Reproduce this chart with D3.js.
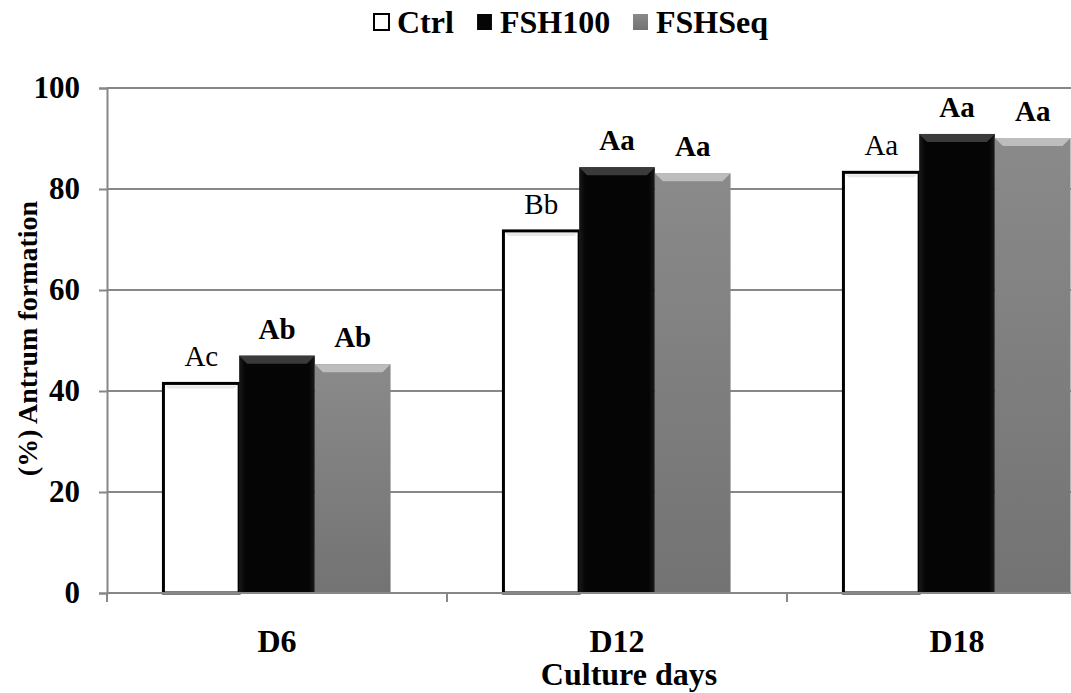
<!DOCTYPE html>
<html>
<head>
<meta charset="utf-8">
<script src="https://cdn.jsdelivr.net/npm/d3@7"></script>
<style>
  body { margin: 0; background: #fff; }
  svg { display: block; font-family: "Liberation Serif", "Times New Roman", serif; }
</style>
</head>
<body>
<div id="chart"></div>
<script>
// chart data
const days = ['D6', 'D12', 'D18'];
const series = ['Ctrl', 'FSH100', 'FSHSeq'];
const ctrlValues = [41.5, 71.7, 83.3];
const fsh100Values = [47.0, 84.3, 90.9];
const fshSeqValues = [45.3, 83.1, 90.1];
const ctrlLabels = ['Ac', 'Bb', 'Aa'];
const fsh100Labels = ['Ab', 'Aa', 'Aa'];
const fshSeqLabels = ['Ab', 'Aa', 'Aa'];
const yTicks = [0, 20, 40, 60, 80, 100];

const valuesBySeries = [ctrlValues, fsh100Values, fshSeqValues];
const labelsBySeries = [ctrlLabels, fsh100Labels, fshSeqLabels];

const W = 1071;
const H = 693;
const margin = { top: 88, left: 107, bottom: 100 };
// the plot runs past the right edge of the picture
const plotRight = 1127;
const plotBottom = H - margin.bottom;

const svg = d3.select('#chart').append('svg').attr('width', W).attr('height', H);

const defs = svg.append('defs');
const blackGrad = defs.append('linearGradient').attr('id', 'gBlack').attr('x1', 0).attr('x2', 1).attr('y1', 0).attr('y2', 0);
blackGrad.append('stop').attr('offset', '0%').attr('stop-color', '#1a1a1a');
blackGrad.append('stop').attr('offset', '8%').attr('stop-color', '#050505');
blackGrad.append('stop').attr('offset', '92%').attr('stop-color', '#050505');
blackGrad.append('stop').attr('offset', '100%').attr('stop-color', '#1a1a1a');
const greyGrad = defs.append('linearGradient').attr('id', 'gGrey').attr('x1', 0).attr('x2', 0).attr('y1', 0).attr('y2', 1);
greyGrad.append('stop').attr('offset', '0%').attr('stop-color', '#8a8a8a');
greyGrad.append('stop').attr('offset', '100%').attr('stop-color', '#737373');

const fills = ['#ffffff', 'url(#gBlack)', 'url(#gGrey)'];
const bevels = ['#e8e8e8', '#3a3a3a', '#bdbdbd'];

const x0 = d3.scaleBand().domain(days).range([margin.left, plotRight]).padding(0);
const x1 = d3.scaleBand().domain(series)
  .range([x0.bandwidth() * 0.166, x0.bandwidth() * 0.834]).padding(0);
const y = d3.scaleLinear().domain([0, 100]).range([plotBottom, margin.top]);

// gridlines
svg.append('g')
  .selectAll('line')
  .data(yTicks.slice(1))
  .enter()
  .append('line')
  .attr('x1', margin.left)
  .attr('x2', W)
  .attr('y1', (d) => y(d))
  .attr('y2', (d) => y(d))
  .attr('stroke', '#878787')
  .attr('stroke-width', 2);

// y axis
const yAxis = svg.append('g')
  .attr('transform', `translate(${margin.left},0)`)
  .call(d3.axisLeft(y).tickValues(yTicks).tickSize(8).tickPadding(19));
yAxis.attr('font-family', null);
yAxis.select('.domain').attr('stroke', '#878787').attr('stroke-width', 2);
yAxis.selectAll('.tick line').attr('stroke', '#878787').attr('stroke-width', 2);
yAxis.selectAll('.tick text')
  .attr('fill', '#000')
  .style('font-size', '31px')
  .style('font-weight', 'bold');

// bars
const groups = svg.append('g')
  .selectAll('g')
  .data(days)
  .enter()
  .append('g')
  .attr('transform', (d) => `translate(${x0(d)},0)`);

series.forEach((s, si) => {
  const bw = x1.bandwidth();
  groups.append('rect')
    .attr('x', x1(s))
    .attr('y', (d, i) => y(valuesBySeries[si][i]))
    .attr('width', bw)
    .attr('height', (d, i) => y(0) - y(valuesBySeries[si][i]))
    .attr('fill', fills[si])
    .attr('stroke', si === 0 ? '#000' : 'none')
    .attr('stroke-width', si === 0 ? 3 : 0);

  // top bevel
  const bev = si === 0 ? 3 : 8;
  groups.append('path')
    .attr('d', (d, i) => {
      const top = y(valuesBySeries[si][i]);
      const l = x1(s) + (si === 0 ? 2 : 0);
      const r = x1(s) + bw - (si === 0 ? 2 : 0);
      const t = top + (si === 0 ? 2 : 0);
      return `M${l},${t}L${r},${t}L${r - bev},${t + bev}L${l + bev},${t + bev}Z`;
    })
    .attr('fill', bevels[si]);

  groups.append('text')
    .attr('x', x1(s) + bw / 2)
    .attr('y', (d, i) => y(valuesBySeries[si][i]) - 17)
    .attr('text-anchor', 'middle')
    .style('font-size', '29px')
    .style('font-weight', si === 0 ? 'normal' : 'bold')
    .text((d, i) => labelsBySeries[si][i]);
});

// x axis
const xAxis = svg.append('g')
  .attr('transform', `translate(0,${plotBottom})`);
xAxis.append('line')
  .attr('x1', margin.left).attr('x2', W)
  .attr('stroke', '#878787').attr('stroke-width', 2);
xAxis.selectAll('.sep')
  .data(days)
  .enter()
  .append('line')
  .attr('class', 'sep')
  .attr('x1', (d) => x0(d)).attr('x2', (d) => x0(d))
  .attr('y1', 0).attr('y2', 9)
  .attr('stroke', '#878787').attr('stroke-width', 2);
xAxis.selectAll('.lbl')
  .data(days)
  .enter()
  .append('text')
  .attr('class', 'lbl')
  .attr('x', (d) => x0(d) + x0.bandwidth() / 2)
  .attr('y', 59)
  .attr('text-anchor', 'middle')
  .style('font-size', '32px')
  .style('font-weight', 'bold')
  .text((d) => d);

svg.append('text')
  .attr('x', 629)
  .attr('y', 685)
  .attr('text-anchor', 'middle')
  .style('font-size', '32px')
  .style('font-weight', 'bold')
  .text('Culture days');

svg.append('text')
  .attr('transform', `translate(37,${(margin.top + plotBottom) / 2 - 2}) rotate(-90)`)
  .attr('text-anchor', 'middle')
  .style('font-size', '28px')
  .style('font-weight', 'bold')
  .text('(%) Antrum formation');

// legend
const legendX = [373, 476, 632];
const legend = svg.append('g');
series.forEach((s, si) => {
  legend.append('rect')
    .attr('x', legendX[si] + 1)
    .attr('y', 14)
    .attr('width', 15)
    .attr('height', 16)
    .attr('fill', fills[si])
    .attr('stroke', '#000')
    .attr('stroke-width', si === 0 ? 2 : 0);
  legend.append('text')
    .attr('x', legendX[si] + 24)
    .attr('y', 33)
    .style('font-size', '32px')
    .style('font-weight', 'bold')
    .text(s);
});
</script>
</body>
</html>
